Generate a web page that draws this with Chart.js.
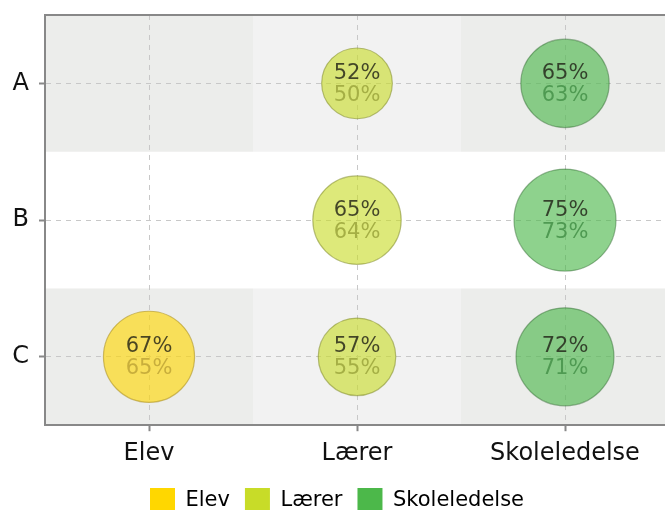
<!DOCTYPE html>
<html>
<head>
<meta charset="utf-8">
<script src="https://cdn.jsdelivr.net/npm/chart.js@4"></script>
<style>
  html, body { margin: 0; padding: 0; background: #fff; overflow: hidden; }
  #wrap { width: 674px; height: 523px; }
</style>
</head>
<body>
<div id="wrap"><canvas id="chart" width="674" height="523"></canvas></div>
<script>
  const groups = ["Elev", "Lærer", "Skoleledelse"]
  const rows = ["A", "B", "C"]

  // per group: row, current value, previous value
  const elevRows = ["C"]
  const elevNow = [67]
  const elevPrev = [65]

  const laererRows = ["A", "B", "C"]
  const laererNow = [52, 65, 57]
  const laererPrev = [50, 64, 55]

  const skoleRows = ["A", "B", "C"]
  const skoleNow = [65, 75, 72]
  const skolePrev = [63, 73, 71]

  const solid = ["#FFD700", "#C8DC28", "#4CB84A"]
  const fills = ["rgba(255,215,0,0.62)", "rgba(200,220,40,0.62)", "rgba(76,184,74,0.63)"]
  const borders = ["rgba(170,140,20,0.55)", "rgba(130,140,40,0.55)", "rgba(40,100,40,0.45)"]
  const subText = ["#C8AE3C", "#A5AF45", "#4F9A52"]

  const FONT = "'DejaVu Sans', Verdana, sans-serif"

  function makeSet(gi, rws, now, prev){
    return {
      label: groups[gi],
      data: rws.map((r, i) => ({ x: gi + 1, y: rows.indexOf(r) + 1, r: now[i] * 0.68, now: now[i], prev: prev[i] })),
      backgroundColor: fills[gi],
      borderColor: borders[gi],
      borderWidth: 1.2,
      hoverRadius: 0
    }
  }

  const bandPlugin = {
    id: "bands",
    beforeDraw(chart){   // shaded cells behind rows A and C
      const ctx = chart.ctx
      const xs = chart.scales.x, ys = chart.scales.y
      const cols = ["#ECEDEB", "#F2F2F2", "#ECEDEB"]
      ctx.save()
      ;[1, 3].forEach((row) => {
        for (let c = 1; c <= 3; c++) {
          const x0 = xs.getPixelForValue(c - 0.5), x1 = xs.getPixelForValue(c + 0.5)
          const y0 = ys.getPixelForValue(row - 0.5), y1 = ys.getPixelForValue(row + 0.5)
          ctx.fillStyle = cols[c - 1]
          ctx.fillRect(x0, y0, x1 - x0, y1 - y0)
        }
      })
      ctx.restore()
    },
    afterDraw(chart){   // top frame line
      const ctx = chart.ctx, a = chart.chartArea
      ctx.save()
      ctx.strokeStyle = "#888"
      ctx.lineWidth = 2
      ctx.beginPath()
      ctx.moveTo(a.left - 1, a.top)
      ctx.lineTo(a.right, a.top)
      ctx.stroke()
      ctx.restore()
    }
  }

  const labelPlugin = {
    id: "bubbleText",
    afterDatasetsDraw(chart){
      const ctx = chart.ctx
      ctx.save()
      ctx.font = "21px " + FONT
      ctx.textAlign = "center"
      ctx.textBaseline = "middle"
      chart.data.datasets.forEach((ds, di) => {
        chart.getDatasetMeta(di).data.forEach((el, i) => {
          const d = ds.data[i]
          ctx.fillStyle = "rgba(30,30,20,0.8)"
          ctx.fillText(d.now + "%", el.x, el.y - 10)
          ctx.fillStyle = subText[di]
          ctx.fillText(d.prev + "%", el.x, el.y + 12)
        })
      })
      ctx.restore()
    }
  }

  const config = {
    type: "bubble",
    data: {
      datasets: [
        makeSet(0, elevRows, elevNow, elevPrev),
        makeSet(1, laererRows, laererNow, laererPrev),
        makeSet(2, skoleRows, skoleNow, skolePrev)
      ]
    },
    plugins: [bandPlugin, labelPlugin],
    options: {
      responsive: false,
      animation: false,
      events: [],
      layout: { autoPadding: false, padding: { top: 15, left: 5, right: 5, bottom: 0 } },
      scales: {
        x: {
          type: "linear",
          min: 0.5, max: 3.5,
          afterBuildTicks: (s) => { s.ticks = [1, 2, 3].map((v) => ({ value: v })) },
          afterFit: (s) => { s.height -= 3; s.paddingLeft = 0; s.paddingRight = 0 },
          ticks: {
            callback: (v) => groups[v - 1],
            color: "#111",
            font: { family: FONT, size: 24 },
            padding: 8,
            maxRotation: 0,
            autoSkip: false
          },
          grid: { color: "#c8c8c8", lineWidth: 1, tickColor: "#888", tickWidth: 2, tickLength: 6 },
          border: { display: true, color: "#888", width: 2, dash: [5, 5] }
        },
        y: {
          type: "linear",
          reverse: true,
          min: 0.5, max: 3.5,
          afterBuildTicks: (s) => { s.ticks = [1, 2, 3].map((v) => ({ value: v })) },
          afterFit: (s) => { s.width = 40; s.paddingTop = 0; s.paddingBottom = 0 },
          ticks: {
            callback: (v) => rows[v - 1],
            color: "#111",
            font: { family: FONT, size: 24 },
            padding: 10,
            autoSkip: false
          },
          grid: { color: "#c8c8c8", lineWidth: 1, tickColor: "#888", tickWidth: 2, tickLength: 6 },
          border: { display: true, color: "#888", width: 2, dash: [5, 5] }
        }
      },
      plugins: {
        tooltip: { enabled: false },
        legend: {
          position: "bottom",
          labels: {
            boxWidth: 25,
            boxHeight: 25,
            padding: 15,
            color: "#111",
            font: { family: FONT, size: 21 },
            generateLabels: (chart) => chart.data.datasets.map((ds, i) => ({
              text: ds.label, fillStyle: solid[i], strokeStyle: solid[i], lineWidth: 0, datasetIndex: i
            }))
          }
        }
      }
    }
  }

  new Chart(document.getElementById("chart"), config)
</script>
</body>
</html>
